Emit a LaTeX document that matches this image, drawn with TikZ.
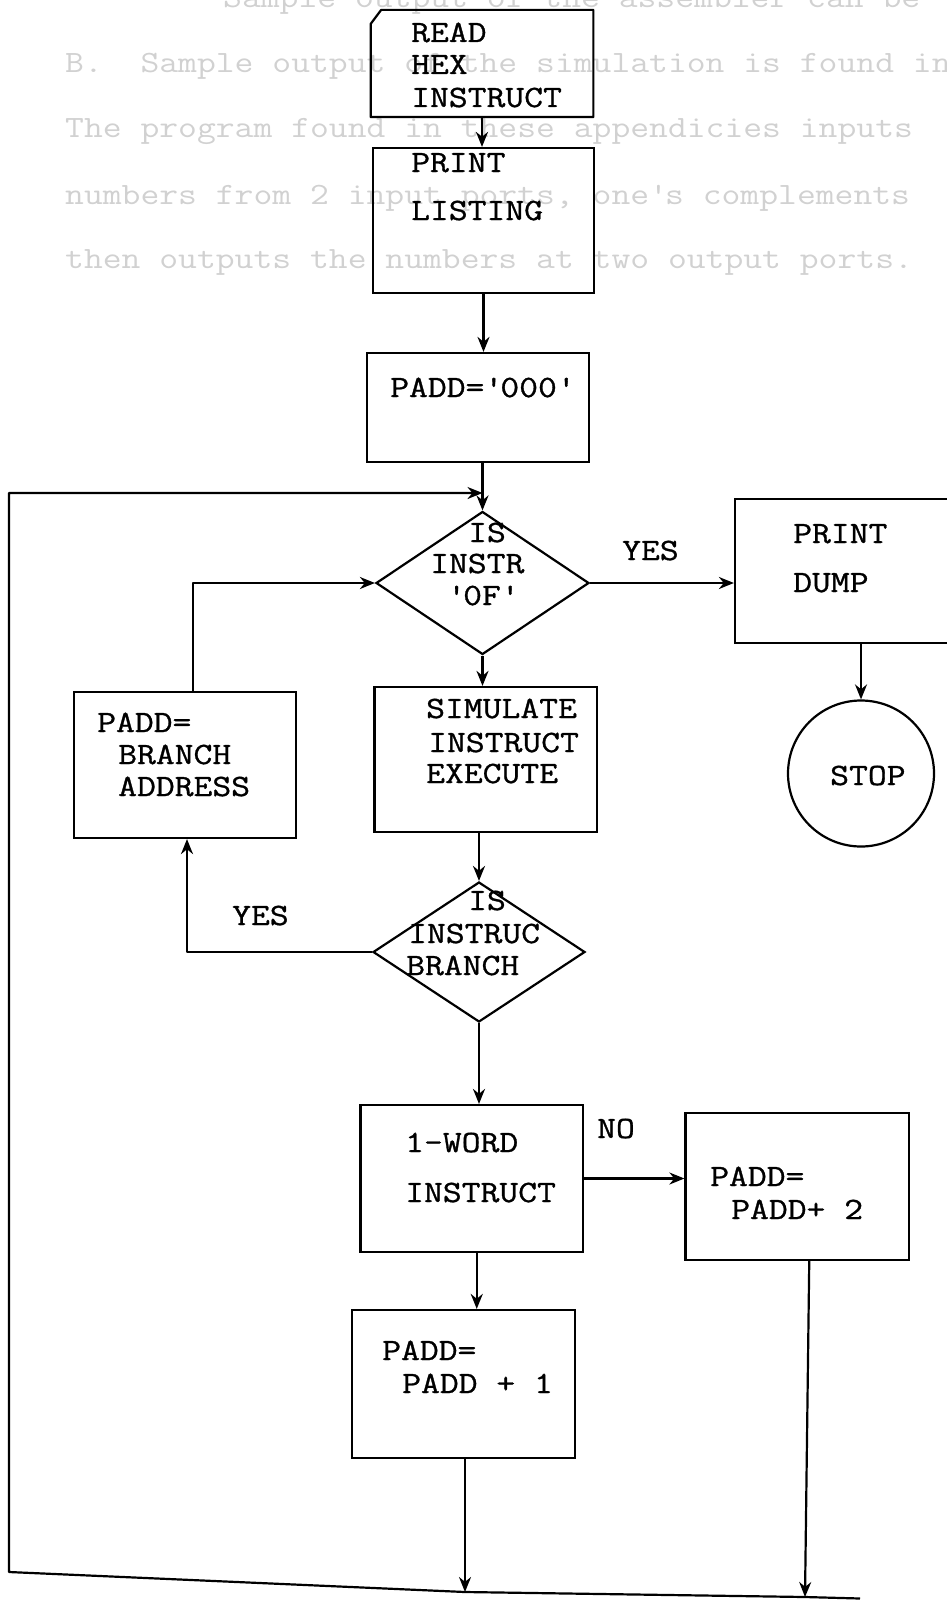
\documentclass[tikz,border=0pt]{standalone}
\usepackage{fontspec}
\newfontfamily\tw{Latin Modern Mono}[FakeStretch=1.18,FakeBold=1]
\newfontfamily\twl{Latin Modern Mono}[FakeStretch=1.18]
\usetikzlibrary{shapes.geometric,arrows.meta,calc}
\tikzset{
  box/.style={draw, line width=2.2pt, rectangle, inner sep=0pt},
  dia/.style={draw, line width=2.2pt, diamond, inner sep=0pt},
  txt/.style={font=\tw\fontsize{31}{31}\selectfont, inner sep=0pt, anchor=base west, text=black},
  faint/.style={font=\twl\fontsize{31}{31}\selectfont, inner sep=0pt, anchor=base west, text=black!18},
  con/.style={line width=2.2pt, line join=round},
  arr/.style={con, -{Stealth[length=15pt,width=12pt]}},
}
\begin{document}
\begin{tikzpicture}[x=1pt,y=-1pt]
\useasboundingbox (0,0) rectangle (947,1600);
% faint show-through text of the page
\node[faint] (f1) at (223,8) {Sample output of the assembler can be};
\node[faint] (f2) at (65,73) {B.\ \ Sample output of the simulation is found in};
\node[faint] (f3) at (65,138) {The program found in these appendicies inputs};
\node[faint] (f4) at (65,204) {numbers from 2 input ports, one\textquotesingle s complements};
\node[faint] (f5) at (65,268) {then outputs the numbers at two output ports.};
% boxes
\node[box, draw=none, minimum width=220.5pt, minimum height=105pt] (read) at (482,63.5) {};
\draw[con] ([xshift=10.5pt]read.north west) -- (read.north east) -- (read.south east) -- (read.south west) -- ([yshift=-14pt]read.north west) -- cycle;
\node[box, minimum width=221pt, minimum height=145pt] (print) at (483.5,220.5) {};
\node[box, minimum width=222pt, minimum height=109pt] (init) at (478,407.5) {};
\node[dia, minimum width=213pt, minimum height=143pt] (dia1) at (482.5,583) {};
\node[box, minimum width=254pt, minimum height=144pt] (dump) at (862,571) {};
\node[draw, circle, line width=2.2pt, minimum size=146pt, inner sep=0pt] (stop) at (861,773.5) {};
\node[box, minimum width=222pt, minimum height=146pt] (branch) at (185,765) {};
\node[box, minimum width=222.5pt, minimum height=145pt] (sim) at (485.75,759.5) {};
\node[dia, minimum width=212pt, minimum height=140pt] (dia2) at (479,952) {};
\node[box, minimum width=222.5pt, minimum height=147pt] (word) at (471.75,1178.5) {};
\node[box, minimum width=223.5pt, minimum height=147pt] (plus2) at (797.25,1186.5) {};
\node[box, minimum width=223pt, minimum height=148pt] (plus1) at (463.5,1384) {};
% texts
\node[txt] (t1) at (411,42) {READ};
\node[txt] (t2) at (411,74) {HEX};
\node[txt] (t3) at (411,107) {INSTRUCT};
\node[txt] (t4) at (411,172) {PRINT};
\node[txt] (t5) at (411,220) {LISTING};
\node[txt] (t6) at (390,397) {PADD=\textquotesingle 000\textquotesingle};
\node[txt] (t7) at (468,542) {IS};
\node[txt] (t8) at (430,573) {INSTR};
\node[txt] (t9) at (447,605) {\textquotesingle 0F\textquotesingle};
\node[txt] (t10) at (793,543) {PRINT};
\node[txt] (t11) at (793,592) {DUMP};
\node[txt] (t12) at (97,732) {PADD=};
\node[txt] (t13) at (118,764) {BRANCH};
\node[txt] (t14) at (118,796) {ADDRESS};
\node[txt] (t15) at (426,718) {SIMULATE};
\node[txt] (t16) at (428,752) {INSTRUCT};
\node[txt] (t17) at (426,783) {EXECUTE};
\node[txt] (t18) at (830,785) {STOP};
\node[txt] (t19) at (468,910) {IS};
\node[txt] (t20) at (408,943) {INSTRUC};
\node[txt] (t21) at (406,975) {BRANCH};
\node[txt] (t22) at (405,1152) {1-WORD};
\node[txt] (t23) at (405,1202) {INSTRUCT};
\node[txt] (t24) at (710,1186) {PADD=};
\node[txt] (t25) at (731,1219) {PADD+ 2};
\node[txt] (t26) at (382,1360) {PADD=};
\node[txt] (t27) at (402,1393) {PADD + 1};
% labels
\node[txt] (y1) at (622,560) {YES};
\node[txt] (y2) at (232,925) {YES};
\node[txt] (n1) at (597,1138) {NO};
% loop coordinates
\coordinate (lt) at (9,493);
\coordinate (lb) at (9,1572);
\coordinate (b1) at (465,1592);
\coordinate (b2) at (805,1597);
\coordinate (be) at (860,1598.5);
% connectors
\draw[arr] (read.south) -- (read.south |- print.north);
\draw[arr] (print.south) -- (print.south |- init.north);
\draw[arr] (dia1.north |- init.south) -- (dia1.north);
\draw[arr] (be) -- (b2) -- (b1) -- (lb) -- (lt) -- (lt -| dia1.north);
\draw[arr] (dia1.east) -- (dia1.east -| dump.west);
\draw[arr] (dump.south -| stop.north) -- (stop.north);
\draw[arr] (dia1.south) -- (dia1.south |- sim.north);
\draw[arr] ([xshift=8pt]branch.north) |- (dia1.west);
\draw[arr] (sim.south -| dia2.north) -- (dia2.north);
\draw[arr] (dia2.west) -| ([xshift=2pt]branch.south);
\draw[arr] (dia2.south) -- (dia2.south |- word.north);
\draw[arr] (word.east) -- (word.east -| plus2.west);
\draw[arr] ([xshift=5pt]word.south) -- ([xshift=5pt]word.south |- plus1.north);
\draw[arr] (plus1.south -| b1) -- (b1);
\draw[arr] ([xshift=12pt]plus2.south) -- (b2);
\end{tikzpicture}
\end{document}
